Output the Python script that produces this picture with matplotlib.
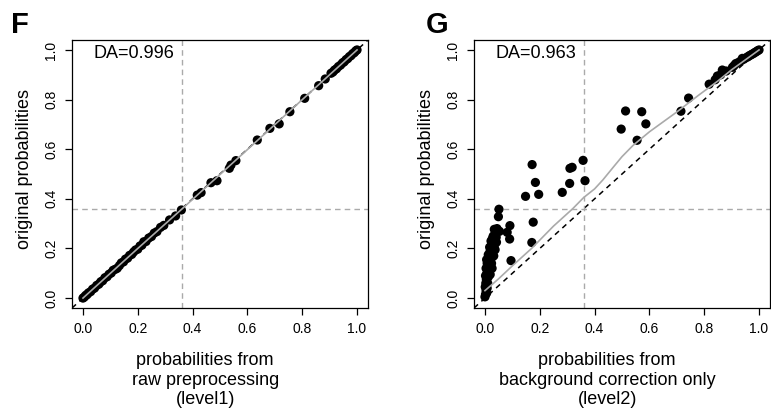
import numpy as np
import matplotlib
matplotlib.use("Agg")
import matplotlib.pyplot as plt

plt.rcParams['font.family'] = ['Liberation Sans', 'DejaVu Sans']

# panel F: raw preprocessing (level1) vs original
f_x = [0.000, 0.005, 0.010, 0.015, 0.020, 0.028, 0.035, 0.042, 0.050, 0.058,
       0.065, 0.072, 0.080, 0.088, 0.095, 0.103, 0.110, 0.118, 0.125, 0.133,
       0.140, 0.148, 0.155, 0.163, 0.170, 0.178, 0.185, 0.192, 0.200, 0.208,
       0.215, 0.222, 0.230, 0.240, 0.250, 0.260, 0.270, 0.283, 0.295, 0.316,
       0.338, 0.359, 0.417, 0.431, 0.467, 0.489, 0.534, 0.540, 0.558, 0.636,
       0.682, 0.716, 0.755, 0.809, 0.860, 0.884, 0.905, 0.912, 0.918, 0.925,
       0.932, 0.940, 0.947, 0.953, 0.960, 0.966, 0.972, 0.978, 0.984, 0.990,
       0.995, 1.000]
f_y = [0.000, 0.004, 0.011, 0.014, 0.021, 0.026, 0.036, 0.040, 0.051, 0.056,
       0.066, 0.070, 0.082, 0.086, 0.096, 0.101, 0.112, 0.116, 0.120, 0.131,
       0.142, 0.146, 0.157, 0.161, 0.172, 0.176, 0.186, 0.194, 0.197, 0.210,
       0.213, 0.227, 0.228, 0.242, 0.248, 0.262, 0.268, 0.285, 0.293, 0.315,
       0.331, 0.355, 0.415, 0.425, 0.465, 0.473, 0.523, 0.536, 0.554, 0.637,
       0.684, 0.702, 0.751, 0.805, 0.856, 0.883, 0.906, 0.911, 0.919, 0.924,
       0.933, 0.939, 0.948, 0.952, 0.961, 0.965, 0.973, 0.977, 0.985, 0.989,
       0.996, 1.000]
f_fit_x = [0.0, 0.2, 0.36, 0.5, 0.7, 0.9, 1.0]
f_fit_y = [0.0, 0.2, 0.358, 0.498, 0.699, 0.9, 1.0]

# panel G: background correction only (level2) vs original
g_x = [0.000, 0.002, 0.004, 0.001, 0.003, 0.006, 0.008, 0.005, 0.002, 0.007,
       0.010, 0.012, 0.009, 0.004, 0.011, 0.014, 0.016, 0.013, 0.008, 0.018,
       0.020, 0.015, 0.021, 0.024, 0.019, 0.023, 0.026, 0.028, 0.025, 0.029,
       0.031, 0.033, 0.030, 0.035, 0.036, 0.034, 0.038, 0.040, 0.042, 0.044,
       0.027, 0.022, 0.017, 0.012, 0.006, 0.032, 0.037, 0.041, 0.026, 0.019,
       0.051, 0.049, 0.053, 0.081, 0.091, 0.090, 0.095, 0.171, 0.176, 0.148,
       0.172, 0.184, 0.196, 0.282, 0.309, 0.310, 0.318, 0.358, 0.365, 0.497,
       0.513, 0.555, 0.572, 0.587, 0.715, 0.743, 0.818, 0.840, 0.848, 0.860,
       0.866, 0.880, 0.903, 0.909, 0.915, 0.925, 0.935, 0.939, 0.945, 0.955,
       0.960, 0.965, 0.970, 0.975, 0.980, 0.985, 0.990, 0.995, 1.000]
g_y = [0.005, 0.015, 0.030, 0.045, 0.060, 0.020, 0.040, 0.075, 0.090, 0.100,
       0.060, 0.085, 0.115, 0.120, 0.135, 0.100, 0.125, 0.150, 0.140, 0.150,
       0.120, 0.170, 0.175, 0.140, 0.190, 0.200, 0.165, 0.190, 0.215, 0.225,
       0.200, 0.235, 0.250, 0.215, 0.255, 0.277, 0.240, 0.265, 0.225, 0.280,
       0.240, 0.230, 0.205, 0.175, 0.155, 0.170, 0.195, 0.245, 0.120, 0.095,
       0.358, 0.328, 0.269, 0.265, 0.292, 0.238, 0.151, 0.224, 0.306, 0.410,
       0.538, 0.466, 0.418, 0.426, 0.462, 0.523, 0.527, 0.555, 0.473, 0.681,
       0.754, 0.636, 0.751, 0.702, 0.753, 0.806, 0.862, 0.880, 0.895, 0.900,
       0.919, 0.915, 0.930, 0.937, 0.945, 0.950, 0.957, 0.966, 0.963, 0.970,
       0.973, 0.977, 0.980, 0.983, 0.986, 0.990, 0.993, 0.997, 1.000]
g_fit_x = [0.0, 0.05, 0.1, 0.17, 0.25, 0.32, 0.36, 0.40, 0.43, 0.47, 0.5, 0.54,
           0.6, 0.7, 0.78, 0.85, 0.9, 0.95, 1.0]
g_fit_y = [0.030, 0.078, 0.13, 0.2, 0.29, 0.36, 0.405, 0.44, 0.476, 0.53, 0.57, 0.615,
           0.67, 0.75, 0.818, 0.875, 0.92, 0.96, 1.0]

panels = [
    ("F", f_x, f_y, f_fit_x, f_fit_y, "DA=0.996", "probabilities from\nraw preprocessing\n(level1)"),
    ("G", g_x, g_y, g_fit_x, g_fit_y, "DA=0.963", "probabilities from\nbackground correction only\n(level2)"),
]
cutoff = 0.36
ticks = [0.0, 0.2, 0.4, 0.6, 0.8, 1.0]

fig = plt.figure(figsize=(7.71, 4.19), dpi=100)
lefts = [0.0934, 0.6148]
letter_x = [0.014, 0.552]

for i, (letter, x, y, fx, fy, da, xlab) in enumerate(panels):
    ax = fig.add_axes([lefts[i], 0.2649, 0.3839, 0.6396])
    ax.set_xlim(-0.04, 1.04)
    ax.set_ylim(-0.04, 1.04)
    ax.axline((0, 0), (1, 1), color='black', lw=1.1, dashes=(3.5, 3), zorder=1)
    ax.axvline(cutoff, color='#aaaaaa', lw=1.0, dashes=(4, 3), zorder=1)
    ax.axhline(cutoff, color='#aaaaaa', lw=1.0, dashes=(4, 3), zorder=1)
    ax.scatter(x, y, s=44, color='black', edgecolors='none', zorder=2)
    ax.plot(fx, fy, color='#aaaaaa', lw=1.2, zorder=3)
    ax.text(0.071, 0.948, da, transform=ax.transAxes, ha='left', va='center', fontsize=13)

    ax.set_xticks(ticks)
    ax.set_yticks(ticks)
    ax.set_xticklabels(["%.1f" % t for t in ticks])
    ax.set_yticklabels(["%.1f" % t for t in ticks], rotation=90, va='center')
    ax.tick_params(direction='out', length=5, width=0.9, labelsize=10, pad=5)
    for sp in ax.spines.values():
        sp.set_linewidth(0.9)

    ax.set_ylabel("original probabilities", fontsize=13)
    ax.yaxis.set_label_coords(-0.132, 0.52)
    ax.set_xlabel(xlab, fontsize=13, linespacing=1.2)
    ax.xaxis.set_label_coords(0.45, -0.164)
    ax.xaxis.label.set_va('top')

    fig.text(letter_x[i], 0.921, letter, fontsize=21, fontweight='bold', ha='left', va='baseline')

fig.savefig("out.png", dpi=100)
